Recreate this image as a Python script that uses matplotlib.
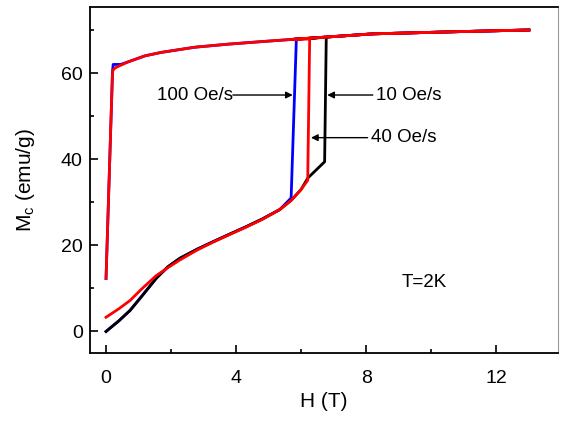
import matplotlib
matplotlib.use("Agg")
import matplotlib.pyplot as plt
from matplotlib.ticker import MultipleLocator

plt.rcParams['font.family'] = ['Liberation Sans', 'DejaVu Sans']

# lower (virgin) branch + jump, for each sweep rate
h_10 = [0.0, 0.4, 0.74, 1.1, 1.55, 1.9, 2.27, 2.8, 3.28, 3.8, 4.3, 4.8, 5.34, 5.7, 6.0, 6.2, 6.72, 6.77]
m_10 = [0.0, 2.5, 4.9, 8.2, 12.4, 15.0, 17.0, 19.1, 20.8, 22.6, 24.3, 26.1, 28.3, 30.5, 33.0, 35.6, 39.4, 68.3]

h_40 = [0.0, 0.4, 0.74, 1.1, 1.55, 1.9, 2.27, 2.8, 3.28, 3.8, 4.3, 4.8, 5.34, 5.7, 6.0, 6.2, 6.26]
m_40 = [3.3, 5.3, 7.2, 9.9, 13.0, 14.8, 16.6, 18.9, 20.7, 22.5, 24.2, 26.0, 28.3, 30.5, 33.0, 35.1, 67.9]

h_100 = [0.0, 0.4, 0.74, 1.1, 1.55, 1.9, 2.27, 2.8, 3.28, 3.8, 4.3, 4.8, 5.34, 5.69, 5.85]
m_100 = [0.0, 2.5, 4.9, 8.2, 12.4, 15.0, 17.0, 19.1, 20.8, 22.6, 24.3, 26.1, 28.3, 31.0, 67.7]

# high-field branch (up to 13 T and back down to zero)
h_up = [5.7, 8.2, 10.76, 13.0]
m_up = [67.8, 69.1, 69.6, 70.0]
h_down = [13.0, 10.76, 8.2, 5.7, 4.78, 3.74, 2.73, 1.7, 1.2, 0.68, 0.28, 0.2, 0.0]
m_down = [70.0, 69.6, 69.1, 67.8, 67.3, 66.7, 66.0, 64.8, 64.0, 62.6, 61.2, 60.5, 12.3]

h_down_b = [13.0, 10.76, 8.2, 5.7, 4.78, 3.74, 2.73, 1.7, 1.2, 0.68, 0.45, 0.22, 0.2, 0.0]
m_down_b = [70.0, 69.6, 69.1, 67.8, 67.3, 66.7, 66.0, 64.8, 64.0, 62.6, 62.0, 62.0, 60.5, 12.3]

fig = plt.figure(figsize=(5.61, 4.21), dpi=100)
ax = fig.add_axes([0.160, 0.1615, 0.835, 0.8215])

lw = 2.0
ax.plot(h_100 + h_up, m_100 + m_up, color='blue', lw=lw)
ax.plot(h_down_b, m_down_b, color='blue', lw=lw)
ax.plot(h_10 + h_up, m_10 + m_up, color='black', lw=lw)
ax.plot(h_40 + h_up, m_40 + m_up, color='red', lw=lw)
ax.plot(h_down, m_down, color='red', lw=lw)

ax.set_xlim(-0.5, 13.9)
ax.set_ylim(-5, 75.3)
ax.xaxis.set_major_locator(MultipleLocator(4))
ax.xaxis.set_minor_locator(MultipleLocator(2))
ax.yaxis.set_major_locator(MultipleLocator(20))
ax.yaxis.set_minor_locator(MultipleLocator(10))
ax.tick_params(which='both', direction='in', top=False, right=False, labelsize=14, width=1.2)
ax.tick_params(which='major', length=6)
ax.tick_params(which='minor', length=3)
ax.tick_params(axis='x', which='major', pad=12)
ax.tick_params(axis='y', which='major', pad=5)
for s in ['left', 'bottom', 'top']:
    ax.spines[s].set_linewidth(1.3)
ax.spines['right'].set_linewidth(0.8)
ax.spines['right'].set_color('#999999')

ax.set_xlabel('H (T)', fontsize=15, labelpad=4)
ax.set_ylabel('M$_\\mathregular{c}$ (emu/g)', fontsize=15, labelpad=17)

arrow = dict(arrowstyle='-|>', color='black', lw=1.0, mutation_scale=10,
             shrinkA=0, shrinkB=0)
ax.annotate('', xy=(5.74, 54.9), xytext=(3.9, 54.9), arrowprops=arrow)
ax.text(3.9, 54.9, '100 Oe/s', fontsize=13.5, ha='right', va='center')
ax.annotate('', xy=(6.8, 54.9), xytext=(8.2, 54.9), arrowprops=arrow)
ax.text(8.3, 54.9, '10 Oe/s', fontsize=13.5, ha='left', va='center')
ax.annotate('', xy=(6.3, 45.0), xytext=(8.04, 45.0), arrowprops=arrow)
ax.text(8.15, 45.0, '40 Oe/s', fontsize=13.5, ha='left', va='center')
ax.text(9.1, 11.4, 'T=2K', fontsize=13.5, ha='left', va='center')

fig.savefig('out.png', dpi=100)
